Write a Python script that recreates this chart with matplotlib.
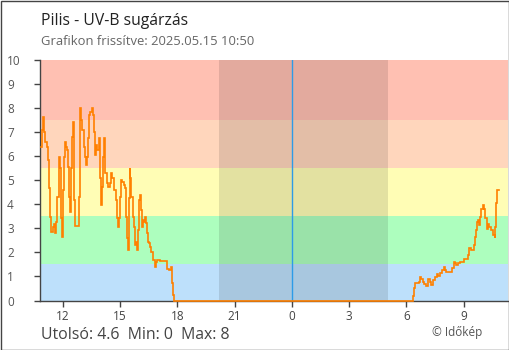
import numpy as np
import matplotlib.pyplot as plt
from matplotlib.patches import Rectangle

plt.rcParams['font.family'] = ['Open Sans', 'DejaVu Sans']

# hours relative to midnight of 2025.05.15 (negative = previous day)
esti_ora = [-13.16, -13.09, -13.04, -12.98, -12.91, -12.84, -12.77, -12.72, -12.65, -12.60,
            -12.53, -12.45, -12.39, -12.34, -12.28, -12.20, -12.15, -12.09, -12.04, -11.99,
            -11.94, -11.88, -11.81, -11.76, -11.71, -11.65, -11.62, -11.57, -11.50, -11.47,
            -11.41, -11.36, -11.18, -11.15, -11.12, -11.08, -11.03, -10.97, -10.91, -10.84,
            -10.76, -10.73, -10.68, -10.63, -10.55, -10.49, -10.42, -10.37, -10.31, -10.26,
            -10.19, -10.12, -10.07, -10.02, -9.96, -9.90, -9.86, -9.81, -9.76, -9.69,
            -9.61, -9.54, -9.49, -9.40, -9.32, -9.23, -9.16, -9.09, -9.06, -9.01,
            -8.95, -8.88, -8.81, -8.74, -8.67, -8.62, -8.59, -8.53, -8.50, -8.45,
            -8.41, -8.32, -8.25, -8.22, -8.17, -8.12, -8.06, -8.01, -7.97, -7.91,
            -7.85, -7.80, -7.75, -7.70, -7.64, -7.59, -7.54, -7.49, -7.41, -7.35,
            -7.28, -7.17, -7.12, -7.05, -6.93, -6.58, -6.52, -6.44, -6.35, -6.26,
            -6.21, -6.16]
esti_uv = [6.40, 7.09, 7.62, 7.02, 6.60, 6.40, 5.84, 4.68, 3.48, 2.86,
           3.07, 3.18, 2.81, 3.28, 4.32, 5.98, 5.50, 3.43, 2.65, 4.59,
           5.98, 6.60, 6.40, 6.26, 5.56, 4.32, 3.69, 5.50, 6.81, 7.43,
           4.18, 3.10, 3.10, 4.32, 6.74, 7.99, 7.51, 7.09, 6.40, 5.98,
           5.63, 5.98, 6.74, 7.71, 7.85, 7.99, 7.71, 7.02, 6.05, 6.47,
           6.26, 6.74, 5.08, 3.97, 4.73, 5.98, 6.74, 5.98, 5.29, 4.87,
           4.73, 4.87, 5.29, 5.08, 4.59, 4.18, 3.43, 3.07, 3.43, 4.32,
           5.01, 4.94, 4.80, 4.67, 3.48, 2.59, 2.10, 4.25, 5.50, 5.08,
           4.32, 3.48, 3.07, 2.31, 2.44, 2.10, 2.93, 4.18, 4.39, 3.76,
           3.07, 3.35, 3.28, 3.48, 3.21, 2.79, 2.44, 2.38, 2.24, 2.03,
           1.68, 1.41, 1.61, 1.68, 1.64, 1.64, 1.31, 1.27, 1.41, 0.72,
           0.23, 0.0]

reggeli_ora = [6.34, 6.41, 6.46, 6.65, 6.70, 6.77, 6.86, 6.93, 7.04, 7.14,
               7.23, 7.31, 7.42, 7.52, 7.59, 7.68, 7.77, 7.85, 7.96, 8.03,
               8.08, 8.38, 8.47, 8.55, 8.62, 8.71, 8.82, 9.01, 9.24, 9.30,
               9.41, 9.53, 9.60, 9.65, 9.72, 9.77, 9.81, 9.86, 9.93, 10.00,
               10.07, 10.14, 10.21, 10.28, 10.35, 10.44, 10.56, 10.63, 10.65, 10.70,
               10.75, 10.84]
reggeli_uv = [0.19, 0.51, 0.71, 0.78, 0.99, 0.90, 0.78, 0.69, 0.60, 0.88,
              0.78, 0.64, 0.85, 0.99, 1.10, 1.00, 1.13, 1.27, 1.41, 1.27,
              1.17, 1.34, 1.61, 1.54, 1.47, 1.57, 1.61, 1.71, 1.89, 2.17,
              2.10, 2.31, 2.65, 2.93, 3.28, 3.35, 3.14, 3.48, 3.79, 3.97,
              3.79, 3.42, 2.96, 3.18, 3.07, 2.93, 2.72, 2.59, 3.07, 4.07,
              4.60, 4.60]

ora = esti_ora + reggeli_ora
uv = esti_uv + reggeli_uv

savok = [(0, 1.5, '#bde0fb'), (1.5, 3.5, '#adfebe'), (3.5, 5.5, '#fffdb5'),
         (5.5, 7.5, '#ffd6bc'), (7.5, 10, '#ffc0b2')]
ejszaka = (-3.84, 5.06)
xtick_pos = [-12, -9, -6, -3, 0, 3, 6, 9]
xtick_lab = ['12', '15', '18', '21', '0', '3', '6', '9']

fig = plt.figure(figsize=(5.1, 3.5), dpi=100)
ax = fig.add_axes([40 / 510, 49.5 / 350, 468.5 / 510, 240.5 / 350])

for lo, hi, c in savok:
    ax.axhspan(lo, hi, color=c, lw=0, zorder=0)
ax.axvspan(ejszaka[0], ejszaka[1], color='black', alpha=0.11, lw=0, zorder=1)
ax.axvline(0, color='#2d9be8', lw=1, zorder=2)

ax.plot(ora, uv, color='#ff8000', lw=1.2, drawstyle='steps-post', zorder=5,
        clip_on=False, solid_joinstyle='miter')

ax.set_xlim(-13.19, 11.35)
ax.set_ylim(0, 10)
ax.set_yticks(range(11))
ax.set_xticks(xtick_pos)
ax.set_xticklabels(xtick_lab)
for s in ['top', 'right']:
    ax.spines[s].set_visible(False)
for s in ['left', 'bottom']:
    ax.spines[s].set_color('#444444')
    ax.spines[s].set_linewidth(1)
ax.tick_params(axis='y', length=4.3, width=1, color='#444444', labelcolor='#555555',
               labelsize=8.5, pad=19.4)
for t in ax.get_yticklabels():
    t.set_horizontalalignment('left')
ax.tick_params(axis='x', length=4.3, width=1, color='#444444', labelcolor='#444444',
               labelsize=8.5, pad=2.5)

fig.text(41 / 510, 1 - 25 / 350, 'Pilis - UV-B sugárzás', fontsize=11.3, color='#222222',
         va='baseline')
fig.text(41 / 510, 1 - 45 / 350, 'Grafikon frissítve: 2025.05.15 10:50', fontsize=9.4,
         color='#666666', va='baseline')
fig.text(41 / 510, 1 - 339 / 350, 'Utolsó: 4.6  Min: 0  Max: 8', fontsize=11.4,
         color='#444444', va='baseline')
fig.text(482 / 510, 1 - 336 / 350, '© Időkép', fontsize=8.5, color='#555555',
         va='baseline', ha='right')

fig.patches.append(Rectangle((0.5 / 510, 0.5 / 350), 509 / 510, 349 / 350,
                             transform=fig.transFigure, fill=False,
                             edgecolor='#444444', lw=1))

fig.savefig('out.png', dpi=100)
